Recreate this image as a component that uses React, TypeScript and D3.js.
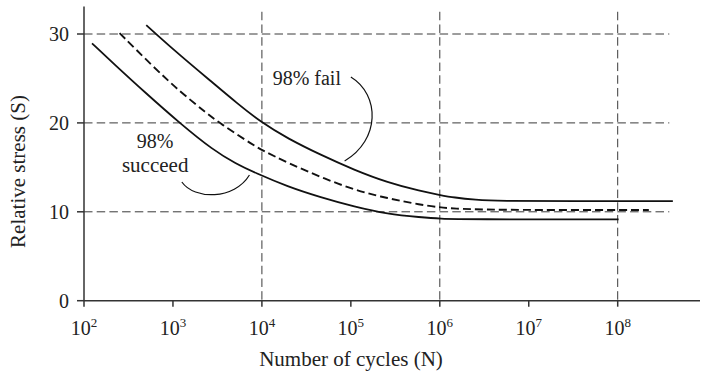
import React from 'react';
import * as d3 from 'd3';

// log10(N) and relative stress S for each curve
const failLogN = [2.70, 2.81, 3.08, 3.45, 3.71, 4.0, 4.29, 4.66, 5.04, 5.41, 5.79, 6.0, 6.16, 6.4, 6.66, 7.5, 8.62];
const failS = [31.0, 30.0, 27.6, 24.5, 22.3, 20.0, 18.25, 16.4, 14.7, 13.3, 12.3, 11.9, 11.6, 11.35, 11.22, 11.2, 11.2];

const medianLogN = [2.40, 2.78, 3.08, 3.38, 3.52, 3.92, 4.0, 4.29, 4.66, 5.04, 5.41, 5.79, 6.0, 6.16, 6.5, 7.0, 8.35];
const medianS = [30.1, 26.3, 23.5, 21.1, 20.0, 17.4, 16.95, 15.5, 13.9, 12.45, 11.52, 10.77, 10.5, 10.35, 10.25, 10.2, 10.2];

const succeedLogN = [2.09, 2.33, 2.70, 3.08, 3.45, 3.71, 3.92, 4.29, 4.66, 5.04, 5.41, 5.79, 6.0, 6.3, 8.01];
const succeedS = [28.95, 26.7, 23.3, 19.95, 16.95, 15.4, 14.4, 12.83, 11.63, 10.57, 9.75, 9.38, 9.22, 9.15, 9.15];

const xTickExps = [2, 3, 4, 5, 6, 7, 8];
const yTicks = [0, 10, 20, 30];
const gridXExps = [4, 6, 8];
const gridY = [10, 20, 30];

const xTitle = 'Number of cycles (N)';
const yTitle = 'Relative stress (S)';
const failLabel = '98% fail';
const succeedLabel = ['98%', 'succeed'];

const FONT = "'Liberation Serif', 'DejaVu Serif', serif";
const txt = { fontFamily: FONT, fontSize: 20, fill: '#222' } as const;
const titleTxt = { fontFamily: FONT, fontSize: 21, fill: '#222' } as const;

export default function App() {
  const x = d3.scaleLog().domain([1e2, 1e8]).range([84, 617.7]);
  const y = d3.scaleLinear().domain([0, 30]).range([300.7, 34]);
  const lx = (e: number) => x(Math.pow(10, e));

  const line = d3
    .line<[number, number]>()
    .x((d) => lx(d[0]))
    .y((d) => y(d[1]))
    .curve(d3.curveBasis);

  const zip = (a: number[], b: number[]) => a.map((v, i) => [v, b[i]] as [number, number]);

  const x0 = lx(2);
  const y0 = y(0);
  const axisTop = y(33.1);
  const axisRight = 700;
  const gridRight = lx(8.58);
  const gridTop = y(32.5);

  // leader curves (defined in data space)
  const p = (e: number, s: number) => [lx(e), y(s)];
  const f0 = p(5.0, 25.16), f1 = p(5.33, 23.14), f2 = p(5.33, 18.08), f3 = p(4.93, 15.71);
  const s0 = p(3.10, 13.35), s1 = p(3.24, 11.33), s2 = p(3.69, 11.33), s3 = p(3.86, 14.14);

  return (
    <svg width={702} height={376} style={{ position: 'absolute', left: 0, top: 0, background: '#fff' }}>
      {/* grid */}
      {gridY.map((v) => (
        <line key={'gy' + v} x1={x0} x2={gridRight} y1={y(v)} y2={y(v)} stroke="#3a3a3a" strokeWidth={1} strokeDasharray="8.5,4.2" />
      ))}
      {gridXExps.map((e) => (
        <line key={'gx' + e} x1={lx(e)} x2={lx(e)} y1={gridTop} y2={y0} stroke="#3a3a3a" strokeWidth={1} strokeDasharray="8.5,4.2" />
      ))}

      {/* curves */}
      <path d={line(zip(failLogN, failS)) || ''} fill="none" stroke="#111" strokeWidth={1.8} />
      <path d={line(zip(medianLogN, medianS)) || ''} fill="none" stroke="#111" strokeWidth={1.9} strokeDasharray="8,4" />
      <path d={line(zip(succeedLogN, succeedS)) || ''} fill="none" stroke="#111" strokeWidth={1.8} />

      {/* leaders */}
      <path d={`M${f0[0]},${f0[1]} C${f1[0]},${f1[1]} ${f2[0]},${f2[1]} ${f3[0]},${f3[1]}`} fill="none" stroke="#111" strokeWidth={1.2} />
      <path d={`M${s0[0]},${s0[1]} C${s1[0]},${s1[1]} ${s2[0]},${s2[1]} ${s3[0]},${s3[1]}`} fill="none" stroke="#111" strokeWidth={1.2} />

      {/* axes */}
      <line x1={x0} x2={x0} y1={axisTop} y2={y0} stroke="#333" strokeWidth={1.5} />
      <line x1={x0} x2={axisRight} y1={y0} y2={y0} stroke="#333" strokeWidth={1.5} />
      {yTicks.map((v) => (
        <g key={'yt' + v}>
          <line x1={x0 - 7} x2={x0} y1={y(v)} y2={y(v)} stroke="#333" strokeWidth={1.5} />
          <text x={x0 - 15} y={y(v)} dy="0.36em" textAnchor="end" style={txt}>
            {v}
          </text>
        </g>
      ))}
      {xTickExps.map((e) => (
        <g key={'xt' + e}>
          <line x1={lx(e)} x2={lx(e)} y1={y0} y2={y0 + 6} stroke="#333" strokeWidth={1.5} />
          <text x={lx(e)} y={335} textAnchor="middle" style={txt}>
            10
            <tspan dy={-8} style={{ fontSize: 13 }}>{e}</tspan>
          </text>
        </g>
      ))}

      {/* titles */}
      <text x={351} y={366} textAnchor="middle" style={titleTxt}>
        {xTitle}
      </text>
      <text transform="translate(25,171.5) rotate(-90)" textAnchor="middle" style={titleTxt}>
        {yTitle}
      </text>

      {/* annotations */}
      <text x={lx(4.505)} y={y(24.3)} textAnchor="middle" style={txt}>
        {failLabel}
      </text>
      <text x={lx(2.80)} y={y(17.14)} textAnchor="middle" style={txt}>
        {succeedLabel[0]}
      </text>
      <text x={lx(2.80)} y={y(14.44)} textAnchor="middle" style={{ ...txt, fontSize: 21 }}>
        {succeedLabel[1]}
      </text>
    </svg>
  );
}
